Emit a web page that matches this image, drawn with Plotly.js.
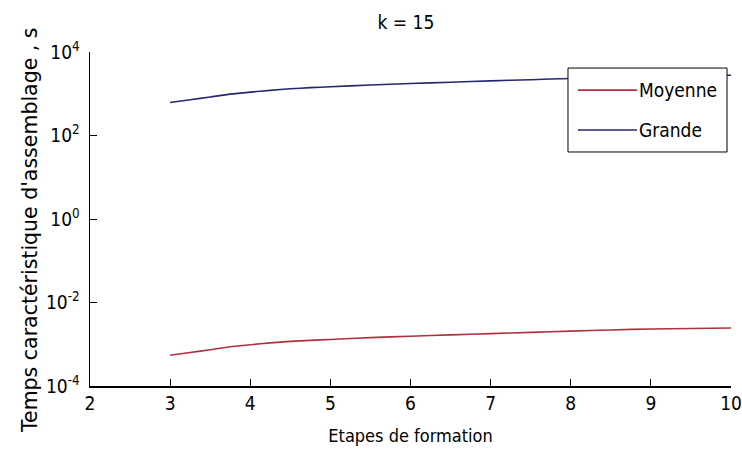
<!DOCTYPE html>
<html>
<head>
<meta charset="utf-8">
<script src="https://cdn.plot.ly/plotly-3.0.1.min.js"></script>
<style>html,body{margin:0;padding:0;background:#fff;}#chart{width:742px;height:464px;}</style>
</head>
<body>
<div id="chart"></div>
<script>
// Data
const etapes = [3, 3.25, 3.5, 3.75, 4, 4.25, 4.5, 4.75, 5, 5.5, 6, 6.5, 7, 7.5, 8, 8.5, 9, 10];
const moyenne = [5.47e-4, 6.34e-4, 7.39e-4, 8.69e-4, 9.70e-4, 1.08e-3, 1.17e-3, 1.24e-3, 1.30e-3, 1.44e-3, 1.56e-3, 1.68e-3, 1.80e-3, 1.92e-3, 2.06e-3, 2.20e-3, 2.32e-3, 2.45e-3];
const grande = [617, 716, 836, 981, 1095, 1205, 1315, 1400, 1467, 1625, 1761, 1891, 2031, 2172, 2325, 2480, 2618, 2767];
const xTicks = [2, 3, 4, 5, 6, 7, 8, 9, 10];
const yTickVals = [1e-4, 1e-2, 1, 1e2, 1e4];
const yTickText = ['10<sup>-4</sup>', '10<sup>-2</sup>', '10<sup>0</sup>', '10<sup>2</sup>', '10<sup>4</sup>'];
const seriesNames = ['Moyenne', 'Grande'];
const colors = ['#b0303c', '#26286e'];
const yTitle = "Temps caractéristique d'assemblage , s";

const FONT = 'DejaVu Sans Condensed, Liberation Sans Narrow, Arial Narrow, sans-serif';

const traces = [
  {x: etapes, y: moyenne, name: seriesNames[0], type: 'scatter', mode: 'lines', line: {color: colors[0], width: 1.6, shape: 'spline', smoothing: 0.6}, showlegend: false},
  {x: etapes, y: grande, name: seriesNames[1], type: 'scatter', mode: 'lines', line: {color: colors[1], width: 1.6, shape: 'spline', smoothing: 0.6}, showlegend: false}
];

// manual legend (paper coordinates)
const lg = {x0: 0.7457, x1: 0.9938, y0: 0.7006, y1: 0.952, lx0: 0.7613, lx1: 0.8534, ys: [0.886, 0.7665]};
const shapes = [
  {type: 'rect', xref: 'paper', yref: 'paper', x0: lg.x0, x1: lg.x1, y0: lg.y0, y1: lg.y1, fillcolor: '#ffffff', line: {color: '#000', width: 1}, layer: 'above'}
];
const annotations = [];
seriesNames.forEach((n, i) => {
  shapes.push({type: 'line', xref: 'paper', yref: 'paper', x0: lg.lx0, x1: lg.lx1, y0: lg.ys[i], y1: lg.ys[i], line: {color: colors[i], width: 1.6}, layer: 'above'});
  annotations.push({xref: 'paper', yref: 'paper', x: lg.lx1, y: lg.ys[i], xanchor: 'left', yanchor: 'middle', text: n, showarrow: false, font: {family: FONT, size: 19, color: '#000'}});
});
// y axis title as rotated annotation (slightly below plot centre as in the reference)
annotations.push({xref: 'paper', yref: 'paper', x: -0.0936, y: 0.467, xanchor: 'center', yanchor: 'middle', textangle: -90, text: yTitle, showarrow: false, font: {family: 'DejaVu Sans, sans-serif', size: 20.5, color: '#000'}});

const layout = {
  width: 742, height: 464,
  margin: {l: 90, r: 11, t: 52, b: 78},
  paper_bgcolor: '#fff', plot_bgcolor: '#fff',
  font: {family: FONT, size: 19, color: '#000'},
  title: {text: 'k = 15', x: 0.547, xanchor: 'center', y: 0.952, yanchor: 'middle', font: {family: FONT, size: 19, color: '#000'}},
  xaxis: {
    range: [2, 10], tickvals: xTicks, ticks: 'inside', ticklen: 7, tickwidth: 1, tickcolor: '#000',
    showline: true, linecolor: '#000', linewidth: 1.5, showgrid: false, zeroline: false,
    title: {text: 'Etapes de formation', standoff: 16, font: {family: FONT, size: 18}}
  },
  yaxis: {
    type: 'log', range: [-4, 4], tickvals: yTickVals, ticktext: yTickText, ticks: 'inside', ticklen: 7, tickwidth: 1, tickcolor: '#000',
    ticklabelstandoff: 5,
    showline: true, linecolor: '#000', linewidth: 1.5, showgrid: false, zeroline: false
  },
  shapes: shapes,
  annotations: annotations,
  showlegend: false
};

Plotly.newPlot('chart', traces, layout, {displayModeBar: false, staticPlot: true});
</script>
</body>
</html>
